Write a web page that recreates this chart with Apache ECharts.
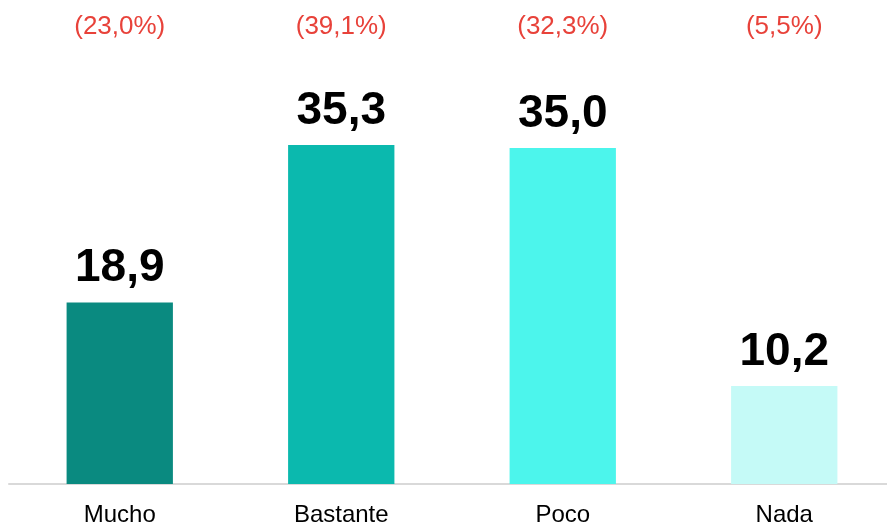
<!DOCTYPE html>
<html>
<head>
<meta charset="utf-8">
<script src="https://cdn.jsdelivr.net/npm/echarts@6/dist/echarts.min.js"></script>
<style>
  html, body { margin: 0; padding: 0; background: #fff; }
  #main { width: 887px; height: 523px; }
</style>
</head>
<body>
<div id="main"></div>
<script>
var categories = ['Mucho', 'Bastante', 'Poco', 'Nada'];
var values = [18.9, 35.3, 35.0, 10.2];
var percentLabels = ['(23,0%)', '(39,1%)', '(32,3%)', '(5,5%)'];
var barColors = ['#0a8a80', '#0bb9ae', '#4cf5ec', '#c5faf7'];

var chart = echarts.init(document.getElementById('main'));
chart.setOption({
  animation: false,
  textStyle: { fontFamily: 'Liberation Sans, Arial, sans-serif' },
  grid: { left: 9, right: -8, top: 100, bottom: 39, outerBoundsMode: 'none', containLabel: false },
  xAxis: [{
    type: 'category',
    data: categories,
    axisLine: { lineStyle: { color: '#d9d9d9', width: 2 } },
    axisTick: { show: false },
    axisLabel: { color: '#000', fontSize: 24, margin: 19 }
  }, {
    type: 'category',
    position: 'top',
    data: percentLabels,
    axisLine: { show: false },
    axisTick: { show: false },
    axisLabel: { color: '#e8423a', fontSize: 26, margin: 60 }
  }],
  yAxis: {
    type: 'value',
    min: 0,
    max: 40,
    show: false
  },
  series: [{
    type: 'bar',
    barWidth: '48%',
    data: values.map(function (v, i) {
      return { value: v, itemStyle: { color: barColors[i] } };
    }),
    label: {
      show: true,
      position: 'top',
      distance: 11,
      color: '#000',
      fontSize: 46,
      fontWeight: 'bold',
      formatter: function (p) { return p.value.toFixed(1).replace('.', ','); }
    }
  }]
});
</script>
</body>
</html>
